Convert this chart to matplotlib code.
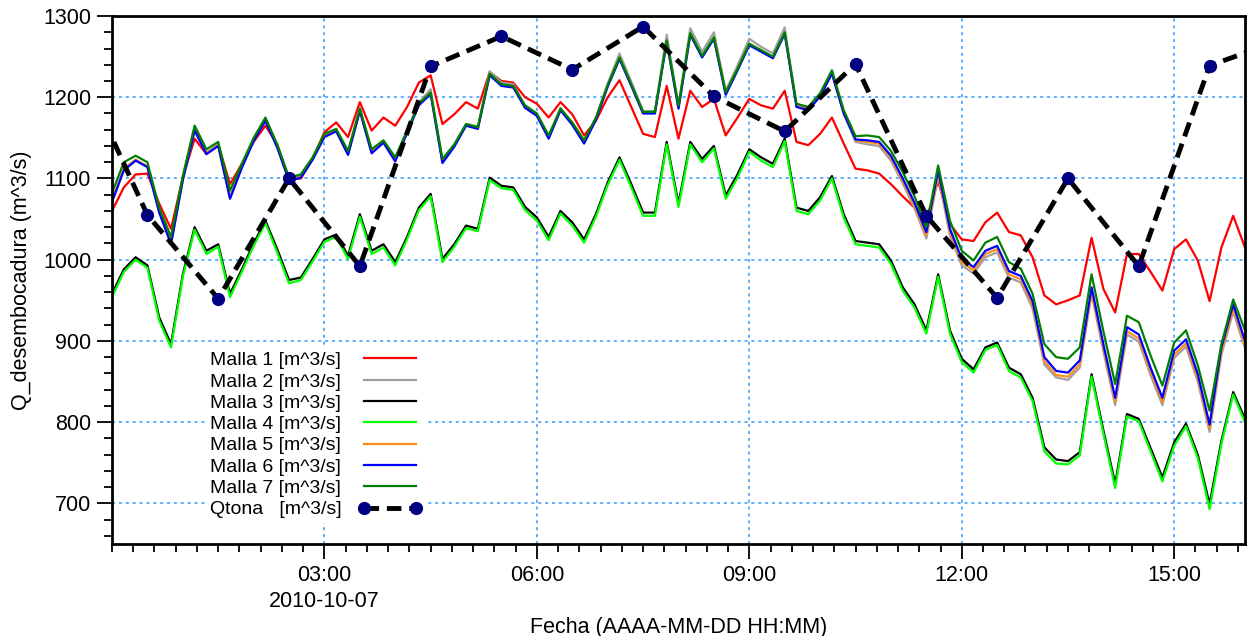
import matplotlib
matplotlib.use("Agg")
import matplotlib.pyplot as plt
import matplotlib.dates as mdates
import matplotlib.ticker as mticker
import numpy as np
import pandas as pd

plt.rcParams['font.family'] = ['Liberation Sans', 'DejaVu Sans']

# ---- data ----
times = pd.date_range("2010-10-07 00:00", periods=97, freq="10min")
qtona_times = pd.date_range("2010-10-06 23:30", periods=18, freq="60min")

labels = ["Malla 1 [m^3/s]", "Malla 2 [m^3/s]", "Malla 3 [m^3/s]", "Malla 4 [m^3/s]",
          "Malla 5 [m^3/s]", "Malla 6 [m^3/s]", "Malla 7 [m^3/s]"]
qtona_label = "Qtona   [m^3/s]"

malla1 = [1060, 1089, 1105, 1106, 1069, 1038, 1101, 1149, 1130, 1142, 1093, 1118,
          1145, 1165, 1142, 1099, 1100, 1124, 1157, 1169, 1151, 1194, 1159, 1175,
          1165, 1188, 1218, 1227, 1167, 1179, 1194, 1186, 1231, 1220, 1218, 1200,
          1192, 1175, 1194, 1179, 1153, 1171, 1200, 1221, 1188, 1155, 1151, 1214,
          1149, 1208, 1188, 1198, 1153, 1175, 1198, 1190, 1186, 1208, 1145, 1141,
          1155, 1175, 1143, 1112, 1110, 1106, 1093, 1078, 1064, 1050, 1097, 1044,
          1025, 1023, 1046, 1058, 1034, 1030, 1003, 956, 945, 950, 956, 1027,
          964, 935, 1007, 1007, 985, 962, 1013, 1025, 999, 949, 1015, 1054,
          1015]
malla2 = [1072, 1111, 1123, 1115, 1059, 1020, 1099, 1160, 1132, 1142, 1076, 1115,
          1148, 1173, 1140, 1099, 1104, 1125, 1153, 1160, 1131, 1186, 1134, 1146,
          1123, 1158, 1193, 1210, 1121, 1141, 1167, 1164, 1232, 1218, 1216, 1189,
          1179, 1150, 1187, 1168, 1145, 1174, 1217, 1254, 1219, 1183, 1183, 1277,
          1190, 1285, 1256, 1280, 1208, 1239, 1272, 1262, 1254, 1286, 1190, 1186,
          1203, 1233, 1180, 1145, 1142, 1140, 1122, 1094, 1063, 1026, 1104, 1030,
          993, 983, 1003, 1009, 978, 972, 940, 871, 855, 852, 867, 958,
          887, 821, 908, 899, 858, 821, 879, 893, 850, 788, 883, 936,
          891]
malla3 = [958, 988, 1003, 993, 929, 896, 982, 1040, 1011, 1019, 958, 988,
          1020, 1048, 1013, 975, 978, 1001, 1025, 1031, 1005, 1056, 1011, 1019,
          997, 1028, 1064, 1081, 1001, 1019, 1042, 1038, 1101, 1091, 1089, 1065,
          1052, 1028, 1060, 1046, 1025, 1056, 1095, 1126, 1093, 1058, 1058, 1145,
          1069, 1145, 1124, 1140, 1079, 1105, 1136, 1126, 1118, 1149, 1064, 1060,
          1077, 1103, 1056, 1023, 1021, 1019, 999, 966, 945, 913, 982, 913,
          878, 865, 892, 898, 867, 859, 830, 769, 754, 752, 763, 859,
          790, 724, 810, 804, 768, 732, 775, 798, 760, 699, 777, 837,
          804]
malla4 = [954, 985, 1000, 990, 925, 892, 979, 1037, 1007, 1016, 954, 985,
          1017, 1045, 1009, 971, 975, 998, 1022, 1028, 1001, 1053, 1007, 1015,
          993, 1025, 1061, 1078, 997, 1016, 1039, 1035, 1098, 1088, 1086, 1061,
          1048, 1024, 1057, 1042, 1021, 1053, 1092, 1123, 1089, 1054, 1054, 1142,
          1065, 1142, 1120, 1137, 1075, 1101, 1133, 1122, 1114, 1146, 1060, 1056,
          1073, 1100, 1052, 1019, 1017, 1015, 995, 962, 941, 909, 979, 909,
          874, 861, 889, 895, 863, 855, 826, 764, 749, 748, 759, 856,
          786, 719, 807, 801, 764, 727, 771, 795, 756, 693, 773, 834,
          800]
malla5 = [1073, 1112, 1123, 1115, 1060, 1021, 1099, 1160, 1131, 1141, 1077, 1114,
          1147, 1172, 1139, 1098, 1102, 1124, 1152, 1159, 1130, 1184, 1132, 1145,
          1122, 1157, 1191, 1205, 1120, 1140, 1166, 1162, 1228, 1215, 1213, 1188,
          1178, 1150, 1185, 1167, 1144, 1173, 1214, 1248, 1215, 1181, 1181, 1269,
          1187, 1278, 1250, 1273, 1204, 1234, 1265, 1257, 1249, 1279, 1189, 1185,
          1202, 1230, 1181, 1147, 1145, 1143, 1125, 1097, 1066, 1030, 1106, 1034,
          997, 987, 1007, 1013, 982, 976, 944, 875, 858, 856, 871, 961,
          891, 825, 912, 903, 862, 825, 883, 897, 854, 792, 887, 940,
          895]
malla6 = [1071, 1110, 1122, 1114, 1058, 1019, 1098, 1159, 1130, 1140, 1075, 1113,
          1146, 1171, 1138, 1097, 1101, 1123, 1151, 1158, 1129, 1183, 1131, 1144,
          1121, 1156, 1190, 1204, 1119, 1139, 1165, 1161, 1227, 1214, 1212, 1187,
          1177, 1149, 1184, 1166, 1143, 1172, 1213, 1247, 1214, 1180, 1180, 1268,
          1186, 1277, 1249, 1272, 1203, 1233, 1264, 1256, 1248, 1278, 1188, 1184,
          1201, 1229, 1180, 1148, 1147, 1145, 1128, 1100, 1070, 1034, 1110, 1038,
          1001, 991, 1011, 1017, 986, 980, 949, 880, 863, 861, 876, 966,
          896, 830, 917, 908, 867, 830, 888, 902, 859, 797, 892, 945,
          900]
malla7 = [1082, 1120, 1128, 1120, 1064, 1028, 1103, 1165, 1136, 1145, 1085, 1118,
          1150, 1175, 1142, 1101, 1105, 1126, 1155, 1161, 1134, 1186, 1136, 1147,
          1126, 1159, 1192, 1206, 1124, 1142, 1167, 1163, 1229, 1216, 1214, 1190,
          1180, 1153, 1186, 1169, 1147, 1175, 1215, 1249, 1216, 1182, 1182, 1270,
          1190, 1279, 1251, 1274, 1206, 1235, 1266, 1258, 1250, 1280, 1192, 1188,
          1205, 1233, 1184, 1152, 1153, 1151, 1134, 1108, 1078, 1040, 1116, 1048,
          1011, 999, 1021, 1028, 997, 989, 958, 896, 880, 878, 892, 982,
          912, 847, 931, 923, 882, 845, 898, 913, 870, 814, 896, 951,
          913]
qtona = [1245, 1055, 952, 1100, 992, 1238, 1275, 1234, 1287, 1201, 1158, 1241,
         1054, 953, 1100, 992, 1239, 1270]

colors = ["#ff0000", "#a0a0a0", "#000000", "#00ff00", "#ff8c1a", "#0000ff", "#008000"]
series = [malla1, malla2, malla3, malla4, malla5, malla6, malla7]

# ---- figure ----
fig = plt.figure(figsize=(12.5, 6.36), dpi=100)
ax = fig.add_axes([0.0896, 0.1447, 0.9064, 0.8301])

for vals, lab, col in zip(series, labels, colors):
    ax.plot(times, vals, color=col, lw=1.6, label=lab)

ax.plot(qtona_times, qtona, color="black", lw=3.5, ls=(0, (3, 1.6)),
        marker="o", ms=8.5, mfc="#000080", mec="#000080", label=qtona_label, zorder=5)

ax.set_xlim(pd.Timestamp("2010-10-07 00:00"), pd.Timestamp("2010-10-07 16:00"))
ax.set_ylim(650, 1300)

ax.xaxis.set_major_locator(mdates.HourLocator(byhour=[3, 6, 9, 12, 15]))
minor = pd.date_range("2010-10-07 00:00", "2010-10-07 16:00", freq="18min")
ax.xaxis.set_minor_locator(mticker.FixedLocator(mdates.date2num(minor)))


def fmt(x, pos):
    d = mdates.num2date(x)
    s = d.strftime("%H:%M")
    if d.hour == 3:
        s += "\n" + d.strftime("%Y-%m-%d")
    return s


ax.xaxis.set_major_formatter(mticker.FuncFormatter(fmt))
ax.yaxis.set_major_locator(mticker.MultipleLocator(100))
ax.yaxis.set_minor_locator(mticker.MultipleLocator(20))

ax.tick_params(axis="both", which="major", direction="out", length=11, width=1.3,
               labelsize=15.5, pad=4)
ax.tick_params(axis="both", which="minor", direction="out", length=6, width=1.3)
for lab in ax.get_xticklabels():
    lab.set_linespacing(1.3)

ax.grid(True, which="major", color="#3399ff", ls=(0, (2, 2.5)), lw=1.1)
for sp in ax.spines.values():
    sp.set_linewidth(2)

ax.set_ylabel("Q_desembocadura (m^3/s)", fontsize=15.5, labelpad=8)
ax.set_xlabel("Fecha (AAAA-MM-DD HH:MM)", fontsize=15.5, labelpad=4)

leg = ax.legend(loc="upper left", bbox_to_anchor=(195 / 1250, 1 - 337 / 636),
                bbox_transform=fig.transFigure, markerfirst=False, numpoints=2,
                fontsize=14, handlelength=3.3, handletextpad=0.85,
                labelspacing=0.19, borderpad=0.25, frameon=True, fancybox=False)
leg.get_frame().set_facecolor("white")
leg.get_frame().set_edgecolor("none")
leg.get_frame().set_alpha(1)

fig.savefig("out.png", dpi=100)
